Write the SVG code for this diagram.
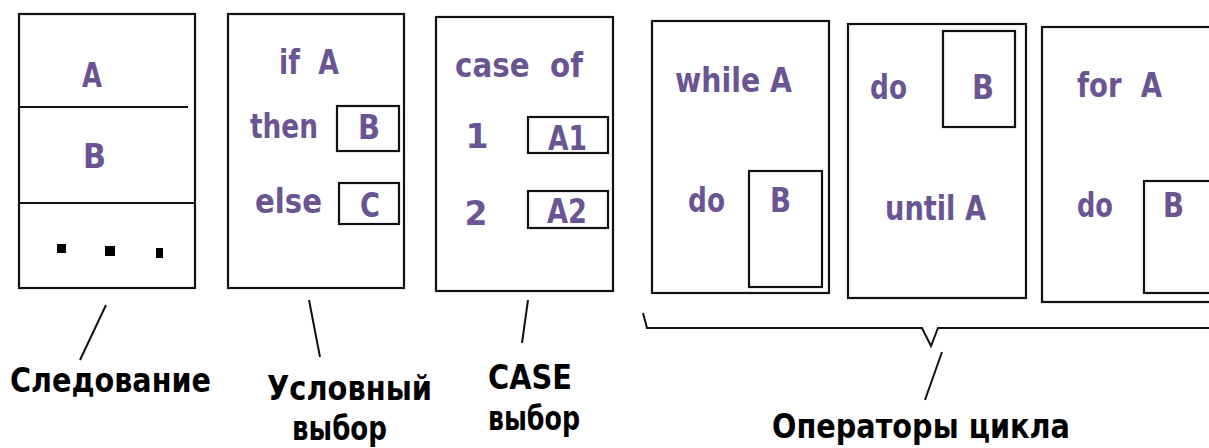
<svg xmlns="http://www.w3.org/2000/svg" width="1209" height="448" viewBox="0 0 1209 448">
  <style>
    .box { fill: none; stroke: #111; stroke-width: 2.2; }
    .code { font-family: "DejaVu Sans", "Liberation Sans", sans-serif; font-weight: bold; font-size: 33px; fill: #6a5592; white-space: pre; }
    .label { font-family: "DejaVu Sans", "Liberation Sans", sans-serif; font-weight: bold; font-size: 34px; fill: #000; }
    .lead { fill: none; stroke: #111; stroke-width: 2; }
  </style>
  <rect width="1209" height="448" fill="#fff"/>

  <!-- sequence block -->
  <g id="sequence">
    <rect class="box" x="19" y="14" width="176" height="274"/>
    <line class="box" x1="19" y1="107" x2="188" y2="107"/>
    <line class="box" x1="19" y1="203" x2="195" y2="203"/>
    <text class="code" x="82" y="87" textLength="20" lengthAdjust="spacingAndGlyphs">A</text>
    <text class="code" x="83" y="168" textLength="23" lengthAdjust="spacingAndGlyphs">B</text>
    <rect x="57" y="244" width="9" height="9" fill="#000"/>
    <rect x="105" y="246" width="10" height="10" fill="#000"/>
    <rect x="156" y="248" width="7" height="10" fill="#000"/>
  </g>

  <!-- if / then / else -->
  <g id="conditional">
    <rect class="box" x="228" y="14" width="176" height="274"/>
    <text class="code" x="279" y="74" textLength="60" lengthAdjust="spacingAndGlyphs">if  A</text>
    <text class="code" x="250" y="138" textLength="68" lengthAdjust="spacingAndGlyphs">then</text>
    <rect class="box" x="337" y="106" width="62" height="45"/>
    <text class="code" x="358" y="139" textLength="22" lengthAdjust="spacingAndGlyphs">B</text>
    <text class="code" x="255" y="213" textLength="67" lengthAdjust="spacingAndGlyphs">else</text>
    <rect class="box" x="339" y="183" width="60" height="41"/>
    <text class="code" x="360" y="217" textLength="20" lengthAdjust="spacingAndGlyphs">C</text>
  </g>

  <!-- case of -->
  <g id="case">
    <rect class="box" x="436" y="17" width="177" height="274"/>
    <text class="code" x="455" y="77" textLength="128" lengthAdjust="spacingAndGlyphs">case  of</text>
    <text class="code" x="477" y="148" text-anchor="middle">1</text>
    <rect class="box" x="528" y="117" width="80" height="36"/>
    <text class="code" x="548" y="150" textLength="39" lengthAdjust="spacingAndGlyphs">A1</text>
    <text class="code" x="476" y="225" text-anchor="middle">2</text>
    <rect class="box" x="528" y="191" width="80" height="37"/>
    <text class="code" x="547" y="223" textLength="40" lengthAdjust="spacingAndGlyphs">A2</text>
  </g>

  <!-- while loop -->
  <g id="while-loop">
    <rect class="box" x="652" y="21" width="177" height="272"/>
    <text class="code" x="675" y="92" textLength="117" lengthAdjust="spacingAndGlyphs">while A</text>
    <text class="code" x="688" y="212" textLength="37" lengthAdjust="spacingAndGlyphs">do</text>
    <rect class="box" x="749" y="171" width="73" height="116"/>
    <text class="code" x="770" y="212" textLength="21" lengthAdjust="spacingAndGlyphs">B</text>
  </g>

  <!-- do ... until loop -->
  <g id="until-loop">
    <rect class="box" x="848" y="24" width="178" height="274"/>
    <rect class="box" x="943" y="31" width="72" height="96"/>
    <text class="code" x="870" y="99" textLength="37" lengthAdjust="spacingAndGlyphs">do</text>
    <text class="code" x="972" y="99" textLength="22" lengthAdjust="spacingAndGlyphs">B</text>
    <text class="code" x="885" y="220" textLength="101" lengthAdjust="spacingAndGlyphs">until A</text>
  </g>

  <!-- for loop -->
  <g id="for-loop">
    <rect class="box" x="1042" y="27" width="200" height="275"/>
    <text class="code" x="1077" y="97" textLength="85" lengthAdjust="spacingAndGlyphs">for  A</text>
    <text class="code" x="1077" y="217" textLength="36" lengthAdjust="spacingAndGlyphs">do</text>
    <rect class="box" x="1144" y="181" width="100" height="112"/>
    <text class="code" x="1163" y="217" textLength="21" lengthAdjust="spacingAndGlyphs">B</text>
  </g>

  <!-- captions -->
  <g id="captions">
    <text class="label" x="10" y="392" textLength="201" lengthAdjust="spacingAndGlyphs">Следование</text>
    <text class="label" x="267" y="400" textLength="165" lengthAdjust="spacingAndGlyphs">Условный</text>
    <text class="label" x="292" y="440" textLength="95" lengthAdjust="spacingAndGlyphs">выбор</text>
    <text class="label" x="488" y="389" textLength="84" lengthAdjust="spacingAndGlyphs">CASE</text>
    <text class="label" x="488" y="430" textLength="92" lengthAdjust="spacingAndGlyphs">выбор</text>
    <text class="label" x="772" y="438" textLength="298" lengthAdjust="spacingAndGlyphs">Операторы цикла</text>
  </g>

  <!-- leader lines and brace -->
  <g id="connectors">
    <line class="lead" x1="106" y1="305" x2="80" y2="360"/>
    <line class="lead" x1="309" y1="300" x2="320" y2="357"/>
    <line class="lead" x1="528" y1="300" x2="522" y2="343"/>
    <path class="lead" d="M643,313 L647,328 L922,328 L931,346 L938,328 L1209,328"/>
    <line class="lead" x1="942" y1="352" x2="925" y2="400"/>
  </g>
</svg>
